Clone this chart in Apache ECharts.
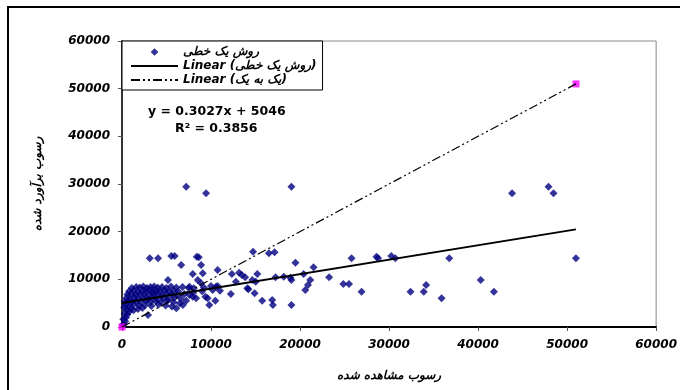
<!DOCTYPE html>
<html><head><meta charset="utf-8">
<script src="https://cdn.jsdelivr.net/npm/echarts@6/dist/echarts.min.js"></script>
<style>html,body{margin:0;padding:0;background:#fff}#c{width:680px;height:390px}</style>
</head><body><div id="c"></div>
<script>
// ---- data ----
const xAxisTitle = 'رسوب مشاهده شده';
const yAxisTitle = 'رسوب برآورد شده';
const nameScatter = 'روش یک خطی';
const nameTrend = 'Linear (روش یک خطی)';
const nameOneToOne = 'Linear (یک به یک)';
const equationText = 'y = 0.3027x + 5046';
const r2Text = 'R² = 0.3856';
const axisMin = 0, axisMax = 60000, axisStep = 10000;

// [observed, estimated]
const linearPoints = [
  [7210,29440],[9440,28050],[19030,29440],
  [3120,14410],[4050,14410],[5540,14900],[5910,14900],[6650,13010],[8400,14750],[8620,14620],[8890,13010],
  [7950,11120],[9070,11260],[8510,9860],[5160,9860],[10740,11960],[12340,11120],
  [13160,11390],[13460,10910],[13830,10430],[12790,9510],
  [14720,15800],[16500,15460],[17140,15670],
  [15200,11120],[15020,9510],[14640,9860],[14200,7910],[14900,7070],[15750,5520],[16870,5660],[16950,4620],
  [17250,10430],[18170,10550],[18920,10340],[19030,9860],[19480,13490],[19030,4620],
  [20590,7760],[20890,8810],[21150,9860],[20400,11120],[21520,12520],[23270,10430],
  [24860,9020],[25500,9020],[26910,7410],[25790,14410],[28580,14750],[28770,14410],[30250,14900],[30700,14410],
  [32410,7410],[33900,7410],[34160,8810],[35900,6020],[36760,14410],[40290,9860],[41780,7410],
  [43820,28050],[47910,29440],[48470,28050],[50990,14410],
  [12230,6920],[9810,4620],[10480,5520],[9370,6360],[9620,6020],[10740,8600],[2930,2520],[6840,4620],[6100,3920],
  [8060,8120],[7580,8450],[8890,9170],[10000,8600],[10560,8450],[14080,8120],[7950,6360],[7580,6710],[8330,6020],
  [11000,7600],[8000,7200],[7200,5500],[6500,5000],[9000,7500],[10180,7760],[9200,8300],
  [100,250],[200,700],[350,1200],[150,1600],[450,2000],[600,2600],[300,2900],[800,3200],[550,3600],[1000,3900],[250,4100],[1300,3500],[1800,3800],[2300,4000],
  [400,4600],[800,4400],[1300,4700],[1900,4500],[2600,4600],[3300,4400],[4100,4700],[4900,4500],[5600,4300],
  [300,5300],[700,5500],[1100,5200],[1600,5400],[2100,5300],[2700,5500],[3200,5200],[3800,5400],[4400,5300],[5100,5500],[5800,5200],
  [500,6100],[900,5900],[1400,6200],[1900,6000],[2400,6100],[2900,5900],[3400,6200],[3900,6000],[4600,6100],[5200,5900],[5900,6200],[6600,6000],
  [600,6800],[1000,6900],[1500,6700],[2000,6900],[2500,6800],[3000,6700],[3500,6900],[4000,6800],[4500,6700],[5000,6900],[5600,6800],[6200,6700],[7000,6900],
  [800,7500],[1300,7600],[1800,7400],[2300,7600],[2700,7500],[3100,7700],[3500,7400],[3900,7600],[4300,7500],[4800,7700],[5300,7400],[5800,7600],[6300,7500],
  [1100,8200],[1600,8400],[2000,8300],[2400,8500],[2800,8200],[3200,8400],[3600,8500],[4000,8300],[4500,8400],[5000,8200],[5500,8500],[6100,8300],[6800,8400],[7500,8200]
];
// trendline end points
const trendPoints = [[0,5046],[50990,20480]];
// one-to-one reference points (pink squares)
const oneToOnePoints = [[0,0],[51000,51000]];

// ---- chart ----
const F = 'DejaVu Sans';
const lbl = {fontFamily:F, fontWeight:'bold', fontStyle:'italic', fontSize:12, color:'#000'};
const diamondIcon = 'path://M0,0L0.01,0M47,12L46.99,12M23.5,2.2L27.3,6L23.5,9.8L19.7,6Z';
const chart = echarts.init(document.getElementById('c'), null, {renderer:'canvas'});
chart.setOption({
  animation:false,
  backgroundColor:'#fff',
  grid:{left:122, right:20, top:41, bottom:63, show:true, borderColor:'#888', borderWidth:1, backgroundColor:'transparent'},
  xAxis:{type:'value', min:axisMin, max:axisMax, interval:axisStep,
    axisLine:{show:true, onZero:false, lineStyle:{color:'#000', width:2}},
    axisTick:{show:true, inside:false, length:4, lineStyle:{color:'#555'}},
    splitLine:{show:false},
    axisLabel:Object.assign({margin:12, formatter:v => String(v)}, lbl),
    name:xAxisTitle, nameLocation:'middle', nameGap:43, nameTextStyle:lbl},
  yAxis:{type:'value', min:axisMin, max:axisMax, interval:axisStep,
    axisLine:{show:true, onZero:false, lineStyle:{color:'#333', width:2}},
    axisTick:{show:true, inside:false, length:4, lineStyle:{color:'#555'}},
    splitLine:{show:false},
    axisLabel:Object.assign({margin:12, formatter:v => String(v)}, lbl),
    name:yAxisTitle, nameLocation:'middle', nameGap:78, nameRotate:90, nameTextStyle:lbl},
  legend:{data:[
      {name:nameScatter, icon:diamondIcon},
      {name:nameTrend, itemStyle:{color:'rgba(0,0,0,0)', borderWidth:0}},
      {name:nameOneToOne, itemStyle:{color:'rgba(0,0,0,0)', borderWidth:0}}
    ], orient:'vertical', left:122, top:41,
    itemWidth:47, itemHeight:12, itemGap:2, padding:[5,6,4,8], backgroundColor:'#fff',
    borderColor:'#000', borderWidth:1, selectedMode:false, textStyle:lbl},
  graphic:[
    {type:'rect', silent:true, z:-10, shape:{x:8, y:7, width:700, height:400}, style:{fill:'none', stroke:'#000', lineWidth:2}},
    {type:'text', x:148, y:105, z:100, style:{text:equationText, font:'bold 12.5px "DejaVu Sans"', fill:'#000'}},
    {type:'text', x:175, y:122, z:100, style:{text:r2Text, font:'bold 12.5px "DejaVu Sans"', fill:'#000'}}
  ],
  series:[
    {name:nameScatter, type:'scatter', data:linearPoints, symbol:'diamond', symbolSize:8, itemStyle:{color:'#000080'}, z:2},
    {name:'one-to-one', type:'scatter', data:oneToOnePoints, symbol:'rect', symbolSize:7, itemStyle:{color:'#ff00ff'}, z:3},
    {name:nameTrend, type:'line', data:trendPoints, symbol:'circle', showSymbol:false, lineStyle:{color:'#000', width:2}, itemStyle:{color:'#000'}, z:5},
    {name:nameOneToOne, type:'line', data:oneToOnePoints, symbol:'circle', showSymbol:false, lineStyle:{color:'#000', width:1.2, type:[9,3,2,3,2,3]}, itemStyle:{color:'#000'}, z:4}
  ]
});
</script></body></html>
